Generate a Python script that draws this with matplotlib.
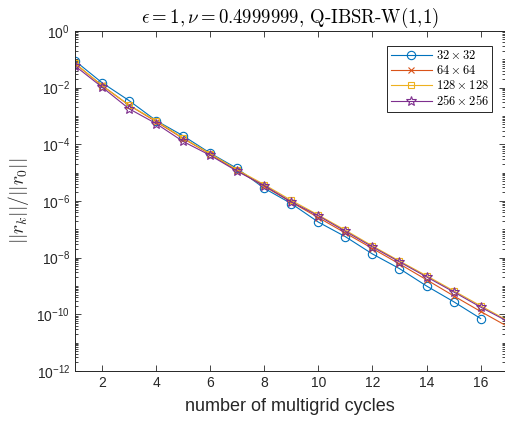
import math
import matplotlib
matplotlib.use("Agg")
import matplotlib.pyplot as plt
from matplotlib.ticker import LogLocator, FixedLocator, NullFormatter, FuncFormatter

cycles_32 = list(range(1, 17))
res_32 = [8.9e-2, 1.5e-2, 3.5e-3, 6.9e-4, 2.0e-4, 4.9e-5, 1.4e-5, 2.8e-6,
          8.1e-7, 1.8e-7, 5.5e-8, 1.35e-8, 4.1e-9, 1.0e-9, 2.8e-10, 7.1e-11]
cycles = list(range(1, 18))
res_64 = [7.1e-2, 1.2e-2, 2.4e-3, 6.3e-4, 1.6e-4, 4.5e-5, 1.2e-5, 3.3e-6,
          9.1e-7, 2.6e-7, 7.4e-8, 2.1e-8, 6.0e-9, 1.66e-9, 4.5e-10, 1.26e-10, 3.7e-11]
res_128 = [7.4e-2, 1.17e-2, 2.4e-3, 6.8e-4, 1.66e-4, 4.7e-5, 1.26e-5, 3.8e-6,
           1.05e-6, 3.2e-7, 9.3e-8, 2.6e-8, 7.6e-9, 2.3e-9, 6.8e-10, 2.0e-10, 6.0e-11]
res_256 = [5.9e-2, 1.05e-2, 1.8e-3, 5.4e-4, 1.26e-4, 4.1e-5, 1.12e-5, 3.5e-6,
           9.3e-7, 3.0e-7, 8.5e-8, 2.4e-8, 7.1e-9, 2.1e-9, 6.2e-10, 1.8e-10, 5.6e-11]
labels = [r'$32\times32$', r'$64\times64$', r'$128\times128$', r'$256\times256$']
xticks = [2, 4, 6, 8, 10, 12, 14, 16]

plt.rcParams['font.family'] = ['Liberation Sans', 'DejaVu Sans']
plt.rcParams['mathtext.fontset'] = 'custom'
plt.rcParams['mathtext.rm'] = 'Liberation Sans'
plt.rcParams['mathtext.it'] = 'Liberation Sans:italic'
plt.rcParams['mathtext.bf'] = 'Liberation Sans:bold'

axc = '#262626'
fig = plt.figure(figsize=(5.06, 4.24), dpi=100)
ax = fig.add_axes([0.148, 0.125, 0.85, 0.802])

ax.semilogy(cycles_32, res_32, '-o', color='#0072BD', lw=0.8, ms=6,
            mfc='none', mew=0.8, label=labels[0])
ax.semilogy(cycles, res_64, '-x', color='#D95319', lw=0.8, ms=5,
            mfc='none', mew=0.8, label=labels[1])
ax.semilogy(cycles, res_128, '-s', color='#EDB120', lw=0.8, ms=5,
            mfc='none', mew=0.8, label=labels[2])
ax.semilogy(cycles, res_256, '-*', color='#7E2F8E', lw=0.8, ms=7.5,
            mfc='none', mew=0.8, label=labels[3])

ax.set_xlim(1, 16.9)
ax.set_ylim(1e-12, 1e0)
ax.xaxis.set_major_locator(FixedLocator(xticks))
ax.yaxis.set_major_locator(FixedLocator([10.0**e for e in range(-12, 1, 2)]))
ax.yaxis.set_minor_locator(LogLocator(base=10, subs=[1, 2, 3, 4, 5, 6, 7, 8, 9], numticks=50))
ax.yaxis.set_minor_formatter(NullFormatter())
ax.yaxis.set_major_formatter(FuncFormatter(lambda v, p: r'$10^{%d}$' % round(math.log10(v))))

ax.tick_params(which='both', direction='in', top=True, right=True,
               colors=axc, labelsize=10, width=0.6)
ax.tick_params(which='major', length=4)
ax.tick_params(which='minor', length=2)
for s in ax.spines.values():
    s.set_color(axc)
    s.set_linewidth(0.7)

ax.set_xlabel('number of multigrid cycles', fontsize=13, color=axc, labelpad=6)
ax.set_ylabel(r'$||r_k||/||r_0||$', fontsize=14, color=axc, math_fontfamily='cm', labelpad=4)
ax.set_title(r'$\epsilon=1,\nu=0.4999999$, Q-IBSR-W(1,1)', fontsize=13.5,
             family='cmr10', math_fontfamily='cm', pad=6)

leg = ax.legend(loc='upper right', frameon=True, fancybox=False,
                edgecolor=axc, framealpha=1, handlelength=3.3, borderpad=0.3,
                labelspacing=0.15, handletextpad=0.3, bbox_to_anchor=(0.985, 0.975),
                prop={'math_fontfamily': 'cm', 'size': 9})
leg.get_frame().set_linewidth(0.7)

fig.savefig('out.png', dpi=100)
